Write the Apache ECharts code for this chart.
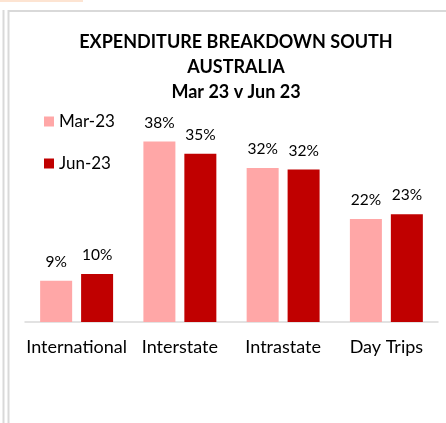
<!DOCTYPE html>
<html>
<head>
<meta charset="utf-8">
<script src="https://cdn.jsdelivr.net/npm/echarts@6/dist/echarts.min.js"></script>
<style>
html, body { margin: 0; padding: 0; background: #fff; }
#main { width: 446px; height: 423px; }
</style>
</head>
<body>
<div id="main"></div>
<script>
var categories = ['International', 'Interstate', 'Intrastate', 'Day Trips'];
var seriesNames = ['Mar-23', 'Jun-23'];
var marData = [8.7, 38.0, 32.4, 21.7];
var junData = [10.1, 35.4, 32.1, 22.7];

var myChart = echarts.init(document.getElementById('main'));
var font = 'Lato, "Open Sans", sans-serif';

var option = {
	backgroundColor: '#fff',
	animation: false,
	title: {
		text: 'EXPENDITURE BREAKDOWN SOUTH\nAUSTRALIA\nMar 23 v Jun 23',
		left: 231,
		top: 25,
		textAlign: 'center',
		textStyle: {
			fontFamily: font,
			fontSize: 18,
			fontWeight: 'bold',
			color: '#000',
			lineHeight: 25
		}
	},
	legend: {
		data: seriesNames,
		orient: 'vertical',
		left: 39,
		top: 108,
		itemWidth: 10,
		itemHeight: 10,
		itemGap: 25,
		icon: 'rect',
		textStyle: {
			fontFamily: font,
			fontSize: 17,
			color: '#000'
		}
	},
	grid: {
		left: 25,
		right: 8,
		top: 132,
		bottom: 101,
		containLabel: false
	},
	xAxis: {
		type: 'category',
		data: categories,
		axisTick: { show: false },
		axisLine: { lineStyle: { color: '#d9d9d9', width: 1.5 } },
		axisLabel: {
			fontFamily: font,
			fontSize: 18,
			color: '#000',
			margin: 16,
			interval: 0
		}
	},
	yAxis: {
		type: 'value',
		min: 0,
		max: 40,
		show: false
	},
	series: [{
		name: seriesNames[0],
		type: 'bar',
		data: marData,
		barWidth: 32,
		barGap: '28%',
		itemStyle: { color: '#ffa7a7' },
		label: {
			show: true,
			position: 'top',
			distance: 11,
			fontFamily: font,
			fontSize: 15.5,
			color: '#000',
			formatter: function(p) { return Math.round(p.value) + '%'; }
		}
	}, {
		name: seriesNames[1],
		type: 'bar',
		data: junData,
		barWidth: 32,
		itemStyle: { color: '#c00000' },
		label: {
			show: true,
			position: 'top',
			distance: 11,
			fontFamily: font,
			fontSize: 15.5,
			color: '#000',
			formatter: function(p) { return Math.round(p.value) + '%'; }
		}
	}],
	graphic: [
		{ type: 'rect', shape: { x: 0, y: 0, width: 83, height: 2 }, style: { fill: '#fde4d2' }, silent: true },
		{ type: 'line', shape: { x1: 3.5, y1: 10, x2: 3.5, y2: 423 }, style: { stroke: '#d9d9d9', lineWidth: 2 }, silent: true },
		{ type: 'line', shape: { x1: 8.5, y1: 10, x2: 8.5, y2: 423 }, style: { stroke: '#d9d9d9', lineWidth: 2 }, silent: true },
		{ type: 'line', shape: { x1: 8, y1: 11, x2: 446, y2: 11 }, style: { stroke: '#d9d9d9', lineWidth: 2 }, silent: true }
	]
};
myChart.setOption(option);
</script>
</body>
</html>
